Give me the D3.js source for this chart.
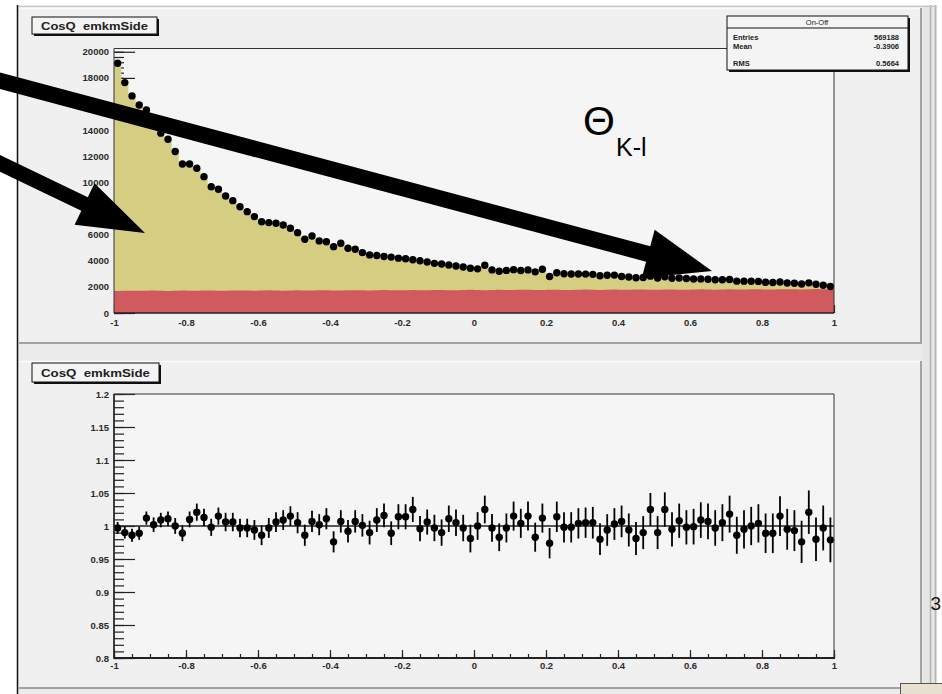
<!DOCTYPE html>
<html><head><meta charset="utf-8">
<script src="https://cdn.jsdelivr.net/npm/d3@7"></script>
<style>
html,body{margin:0;padding:0;background:#fff;overflow:hidden;}
svg{display:block;}
text{font-family:"Liberation Sans",Arial,Helvetica,sans-serif;}
</style></head><body>
<svg id="c" width="942" height="694"></svg>
<script>
// ---------------- data ----------------
const xTickValues = [-1, -0.8, -0.6, -0.4, -0.2, 0, 0.2, 0.4, 0.6, 0.8, 1];
const countTickValues = [0, 2000, 4000, 6000, 8000, 10000, 12000, 14000, 16000, 18000, 20000];
const ratioTickValues = [0.8, 0.85, 0.9, 0.95, 1, 1.05, 1.1, 1.15, 1.2];

// On-Off counts per bin (100 bins of width 0.02 on cos theta, -1 .. 1)
const onOffCounts = [
  19125,17640,16620,15930,15550,14700,13770,13300,12360,11410,
  11410,11080,10440, 9670, 9470, 8960, 8600, 8140, 7760, 7380,
   6990, 6920, 6870, 6740, 6490, 6150, 5650, 5900, 5520, 5460,
   5080, 5340, 4960, 4880, 4620, 4450, 4400, 4330, 4280, 4200,
   4150, 4080, 4000, 3900, 3800, 3750, 3680, 3600, 3520, 3430,
   3380, 3650, 3300, 3200, 3260, 3320, 3250, 3300, 3150, 3350,
   2800, 3080, 3000, 2990, 2990, 2980, 2960, 2850, 2890, 2900,
   2800, 2760, 2700, 2720, 2820, 2680, 2780, 2660, 2680, 2640,
   2600, 2610, 2580, 2540, 2540, 2570, 2440, 2440, 2430, 2420,
   2350, 2330, 2370, 2300, 2280, 2220, 2310, 2200, 2120, 2030
];

// background component per bin
const backgroundCounts = [
  1690,1700,1712,1695,1705,1718,1700,1688,1710,1722,
  1706,1698,1715,1726,1709,1700,1721,1731,1714,1704,
  1719,1736,1724,1713,1729,1741,1726,1718,1734,1746,
  1731,1724,1740,1751,1736,1729,1744,1757,1741,1733,
  1751,1762,1744,1739,1756,1766,1751,1744,1759,1772,
  1754,1749,1766,1777,1761,1753,1771,1781,1764,1758,
  1776,1786,1769,1764,1781,1792,1774,1769,1786,1796,
  1779,1774,1791,1801,1784,1779,1796,1806,1789,1784,
  1801,1811,1794,1789,1806,1816,1799,1794,1811,1821,
  1804,1799,1816,1826,1809,1803,1821,1831,1814,1809
];

// ratio per bin and its uncertainty
const ratioValues = [
  0.997,0.990,0.986,0.989,1.012,1.002,1.009,1.011,1.000,0.989,
  1.010,1.021,1.013,0.998,1.015,1.006,1.006,0.997,0.997,0.994,
  0.986,0.997,1.006,1.009,1.015,1.005,0.986,1.007,1.002,1.011,
  0.976,1.007,0.992,1.007,1.001,0.990,1.009,1.016,0.989,1.014,
  1.014,1.025,0.996,1.006,0.997,0.990,1.011,1.005,0.997,0.981,
  1.000,1.025,0.997,0.983,0.997,1.015,1.004,1.015,0.983,1.012,
  0.974,1.014,0.998,0.998,1.004,1.005,1.005,0.980,0.994,1.003,
  1.007,0.994,0.981,0.990,1.025,0.990,1.025,0.995,1.008,0.998,
  0.999,1.009,1.007,0.997,1.005,1.018,0.986,0.995,1.000,1.004,
  0.989,0.989,1.015,0.995,0.993,0.976,1.021,0.980,0.997,0.979
];
const ratioErrors = [
  0.009,0.009,0.010,0.010,0.010,0.011,0.011,0.011,0.012,0.012,
  0.012,0.013,0.013,0.013,0.013,0.014,0.014,0.014,0.014,0.015,
  0.015,0.015,0.015,0.015,0.015,0.016,0.016,0.016,0.016,0.016,
  0.016,0.017,0.017,0.017,0.017,0.018,0.018,0.018,0.018,0.019,
  0.019,0.019,0.019,0.019,0.020,0.020,0.020,0.020,0.020,0.021,
  0.021,0.021,0.021,0.021,0.022,0.022,0.022,0.022,0.022,0.022,
  0.023,0.023,0.023,0.023,0.023,0.023,0.024,0.024,0.024,0.024,
  0.024,0.025,0.025,0.025,0.025,0.025,0.026,0.026,0.026,0.026,
  0.027,0.027,0.027,0.027,0.028,0.028,0.028,0.029,0.029,0.029,
  0.030,0.030,0.030,0.031,0.031,0.032,0.033,0.033,0.034,0.034
];

const histTitle = "CosQ  emkmSide";
const statsTitle = "On-Off";
const statsLabels = ["Entries", "Mean", "RMS"];
const statsValues = ["569188", "-0.3906", "0.5664"];

// ---------------- layout ----------------
const svg = d3.select("#c");
const FONT = '"Liberation Sans",Arial,Helvetica,sans-serif';
const nBins = onOffCounts.length;
const binWidth = 2 / nBins;
const bins = d3.range(nBins).map(i => ({
  lo: -1 + i * binWidth,
  mid: -1 + (i + 0.5) * binWidth,
  count: onOffCounts[i],
  bkg: backgroundCounts[i],
  ratio: ratioValues[i],
  rerr: ratioErrors[i]
}));

const x = d3.scaleLinear().domain([-1, 1]).range([114, 834]);
const yTop = d3.scaleLinear().domain([0, 20250]).range([313, 48.5]);
const yBot = d3.scaleLinear().domain([0.8, 1.2]).range([658, 394]);
const fmt = v => String(+v.toFixed(3));

// ---------------- canvas and pads ----------------
svg.append("rect").attr("x", 17).attr("y", 5).attr("width", 920).attr("height", 689).attr("fill", "#ebebeb");
svg.append("rect").attr("x", 923).attr("y", 5).attr("width", 14).attr("height", 689).attr("fill", "#e6e6e6");
[930.5, 935.5].forEach(px => svg.append("line").attr("x1", px).attr("x2", px).attr("y1", 5).attr("y2", 694)
  .attr("stroke", "#b4b4b4").attr("stroke-width", 1.5));
svg.append("line").attr("x1", 17).attr("x2", 937).attr("y1", 6.5).attr("y2", 6.5).attr("stroke", "#c4c4c4");

function pad(y0, y1) {
  svg.append("rect").attr("x", 19).attr("y", y0).attr("width", 902).attr("height", y1 - y0).attr("fill", "#f0f0f0");
  svg.append("line").attr("x1", 19).attr("x2", 921).attr("y1", y0 + 0.5).attr("y2", y0 + 0.5).attr("stroke", "#fbfbfb").attr("stroke-width", 1.5);
  svg.append("line").attr("x1", 921).attr("x2", 921).attr("y1", y0).attr("y2", y1 + 1).attr("stroke", "#a2a2a2").attr("stroke-width", 2);
  svg.append("line").attr("x1", 19).attr("x2", 922).attr("y1", y1).attr("y2", y1).attr("stroke", "#a2a2a2").attr("stroke-width", 2);
}
pad(8, 343);
pad(361, 688);
svg.append("line").attr("x1", 17.5).attr("x2", 17.5).attr("y1", 5).attr("y2", 694).attr("stroke", "#111").attr("stroke-width", 1.5);

// ---------------- helpers ----------------
function titleBox(g, x0, y0, w, h, label) {
  g.append("rect").attr("x", x0 + 2).attr("y", y0 + 2).attr("width", w).attr("height", h).attr("fill", "#111");
  g.append("rect").attr("x", x0).attr("y", y0).attr("width", w).attr("height", h).attr("fill", "#f4f4f4").attr("stroke", "#111");
  g.append("text").attr("x", x0 + 9).attr("y", y0 + h / 2 + 4).attr("font-size", 11).attr("font-weight", "bold")
    .attr("fill", "#222").attr("textLength", w - 18).attr("lengthAdjust", "spacingAndGlyphs")
    .style("white-space", "pre").text(label);
}

function styleAxis(sel) {
  sel.select(".domain").remove();
  sel.selectAll(".tick line").attr("stroke", "#222").attr("stroke-width", 1.2);
  sel.selectAll(".tick text").attr("font-family", FONT).attr("font-size", 9.5).attr("font-weight", "bold").attr("fill", "#2a2a2a");
}

function minorTicks(lo, hi, step) {
  const n = Math.round((hi - lo) / step);
  return d3.range(n + 1).map(k => +(lo + k * step).toFixed(6));
}

// ---------------- upper panel ----------------
const upper = svg.append("g");
upper.append("rect").attr("x", 114).attr("y", 48.5).attr("width", 720).attr("height", 264.5).attr("fill", "#f5f5f5");

// inward axis ticks (drawn first; the filled histograms cover them)
const gyTopMinor = upper.append("g").attr("transform", "translate(114,0)")
  .call(d3.axisLeft(yTop).tickValues(minorTicks(0, 20000, 400)).tickSizeInner(-10).tickSizeOuter(0).tickFormat(""));
styleAxis(gyTopMinor);
const gyTop = upper.append("g").attr("transform", "translate(114,0)")
  .call(d3.axisLeft(yTop).tickValues(countTickValues).tickSizeInner(-21).tickSizeOuter(0).tickPadding(5).tickFormat(d => String(d)));
styleAxis(gyTop);

const gxTop = upper.append("g").attr("transform", "translate(0,313)")
  .call(d3.axisBottom(x).tickValues(xTickValues).tickSizeInner(-8).tickSizeOuter(0).tickPadding(6).tickFormat(fmt));
styleAxis(gxTop);

// stacked histograms
const stepPts = key => bins.map(b => ({ x: b.lo, v: b[key] })).concat([{ x: 1, v: bins[nBins - 1][key] }]);
const stepArea = d3.area().curve(d3.curveStepAfter).x(d => x(d.x)).y0(yTop(0)).y1(d => yTop(d.v));
upper.append("path").attr("d", stepArea(stepPts("count"))).attr("fill", "#d5cd81");
upper.append("path").attr("d", stepArea(stepPts("bkg"))).attr("fill", "#d15a5f");

// data points
upper.append("g").selectAll("line").data(bins).join("line")
  .attr("x1", d => x(d.mid)).attr("x2", d => x(d.mid))
  .attr("y1", d => yTop(d.count * (1 + d.rerr))).attr("y2", d => yTop(d.count * (1 - d.rerr)))
  .attr("stroke", "#000").attr("stroke-width", 1.5);
upper.append("g").selectAll("circle").data(bins).join("circle")
  .attr("cx", d => x(d.mid)).attr("cy", d => yTop(d.count)).attr("r", 3.7).attr("fill", "#000");

// frame
upper.append("path").attr("d", `M114,${yTop(0)}V48.5H834V${yTop(0)}`).attr("fill", "none").attr("stroke", "#333").attr("stroke-width", 1);
upper.append("line").attr("x1", 114).attr("x2", 834).attr("y1", 313).attr("y2", 313).attr("stroke", "#222").attr("stroke-width", 1.5);

titleBox(upper, 32, 17, 125, 17, histTitle);

// statistics box
const sb = upper.append("g");
sb.append("rect").attr("x", 729).attr("y", 18).attr("width", 181).attr("height", 54).attr("fill", "#111");
sb.append("rect").attr("x", 727).attr("y", 16).attr("width", 181).attr("height", 54).attr("fill", "#f4f4f4").attr("stroke", "#111");
sb.append("line").attr("x1", 727).attr("x2", 908).attr("y1", 28).attr("y2", 28).attr("stroke", "#111");
sb.append("text").attr("x", 817).attr("y", 25).attr("text-anchor", "middle").attr("font-size", 7.5).attr("fill", "#222").text(statsTitle);
const statRowY = [40, 49, 66];
statsLabels.forEach((s, i) => {
  sb.append("text").attr("x", 733).attr("y", statRowY[i]).attr("font-size", 7.5).attr("font-weight", "bold").attr("fill", "#222").text(s);
  sb.append("text").attr("x", 899).attr("y", statRowY[i]).attr("text-anchor", "end").attr("font-size", 7.5).attr("font-weight", "bold").attr("fill", "#222").text(statsValues[i]);
});

// ---------------- lower panel ----------------
const lower = svg.append("g");
lower.append("rect").attr("x", 114).attr("y", 394).attr("width", 720).attr("height", 264).attr("fill", "#f5f5f5");

const gyBotMinor = lower.append("g").attr("transform", "translate(114,0)")
  .call(d3.axisLeft(yBot).tickValues(minorTicks(0.8, 1.2, 0.01)).tickSizeInner(-10).tickSizeOuter(0).tickFormat(""));
styleAxis(gyBotMinor);
const gyBot = lower.append("g").attr("transform", "translate(114,0)")
  .call(d3.axisLeft(yBot).tickValues(ratioTickValues).tickSizeInner(-21).tickSizeOuter(0).tickPadding(5).tickFormat(fmt));
styleAxis(gyBot);

const gxBotMinor = lower.append("g").attr("transform", "translate(0,658)")
  .call(d3.axisBottom(x).tickValues(minorTicks(-1, 1, 0.05)).tickSizeInner(-4).tickSizeOuter(0).tickFormat(""));
styleAxis(gxBotMinor);
const gxBot = lower.append("g").attr("transform", "translate(0,658)")
  .call(d3.axisBottom(x).tickValues(xTickValues).tickSizeInner(-8).tickSizeOuter(0).tickPadding(4).tickFormat(fmt));
styleAxis(gxBot);

// reference line at unity
lower.append("line").attr("x1", 114).attr("x2", 834).attr("y1", yBot(1)).attr("y2", yBot(1)).attr("stroke", "#222").attr("stroke-width", 1.5);

lower.append("g").selectAll("line").data(bins).join("line")
  .attr("x1", d => x(d.mid)).attr("x2", d => x(d.mid))
  .attr("y1", d => yBot(d.ratio + d.rerr)).attr("y2", d => yBot(d.ratio - d.rerr))
  .attr("stroke", "#000").attr("stroke-width", 1.8);
lower.append("g").selectAll("circle").data(bins).join("circle")
  .attr("cx", d => x(d.mid)).attr("cy", d => yBot(d.ratio)).attr("r", 3.7).attr("fill", "#000");

lower.append("path").attr("d", "M114,658V394H834V658").attr("fill", "none").attr("stroke", "#333").attr("stroke-width", 1);
lower.append("line").attr("x1", 114).attr("x2", 835).attr("y1", 658).attr("y2", 658).attr("stroke", "#222").attr("stroke-width", 2);
lower.append("line").attr("x1", 114).attr("x2", 114).attr("y1", 394).attr("y2", 659).attr("stroke", "#222").attr("stroke-width", 1.5);

titleBox(lower, 32, 363, 127, 19, histTitle);

// ---------------- annotations ----------------
function arrow(p0, p1, shaft, headLen, headW) {
  const dx = p1[0] - p0[0], dy = p1[1] - p0[1], L = Math.hypot(dx, dy);
  const ux = dx / L, uy = dy / L, nx = -uy, ny = ux;
  const bx = p1[0] - ux * headLen, by = p1[1] - uy * headLen;
  const pts = [
    [p0[0] + nx * shaft / 2, p0[1] + ny * shaft / 2],
    [bx + nx * shaft / 2, by + ny * shaft / 2],
    [bx + nx * headW / 2, by + ny * headW / 2],
    [p1[0], p1[1]],
    [bx - nx * headW / 2, by - ny * headW / 2],
    [bx - nx * shaft / 2, by - ny * shaft / 2],
    [p0[0] - nx * shaft / 2, p0[1] - ny * shaft / 2]
  ];
  svg.append("polygon").attr("points", pts.map(p => p.join(",")).join(" ")).attr("fill", "#000");
}
// arrow ends given in the upper panel's data coordinates
arrow([x(-1.4), yTop(18400)], [x(0.661), yTop(3216)], 16, 66, 50);
arrow([x(-1.4), yTop(12556)], [x(-0.914), yTop(6125)], 15, 67, 46);

svg.append("text").attr("x", 583).attr("y", 135).attr("font-size", 41).attr("fill", "#000").text("\u0398");
svg.append("text").attr("x", 616).attr("y", 156).attr("font-size", 25).attr("fill", "#000").text("K-l");

// window corner details
svg.append("text").attr("x", 941).attr("y", 610).attr("text-anchor", "end").attr("font-size", 19).attr("fill", "#111").text("3");
svg.append("rect").attr("x", 900.5).attr("y", 683.5).attr("width", 60).attr("height", 20).attr("fill", "#e8e0d0").attr("stroke", "#555");
</script>
</body></html>
